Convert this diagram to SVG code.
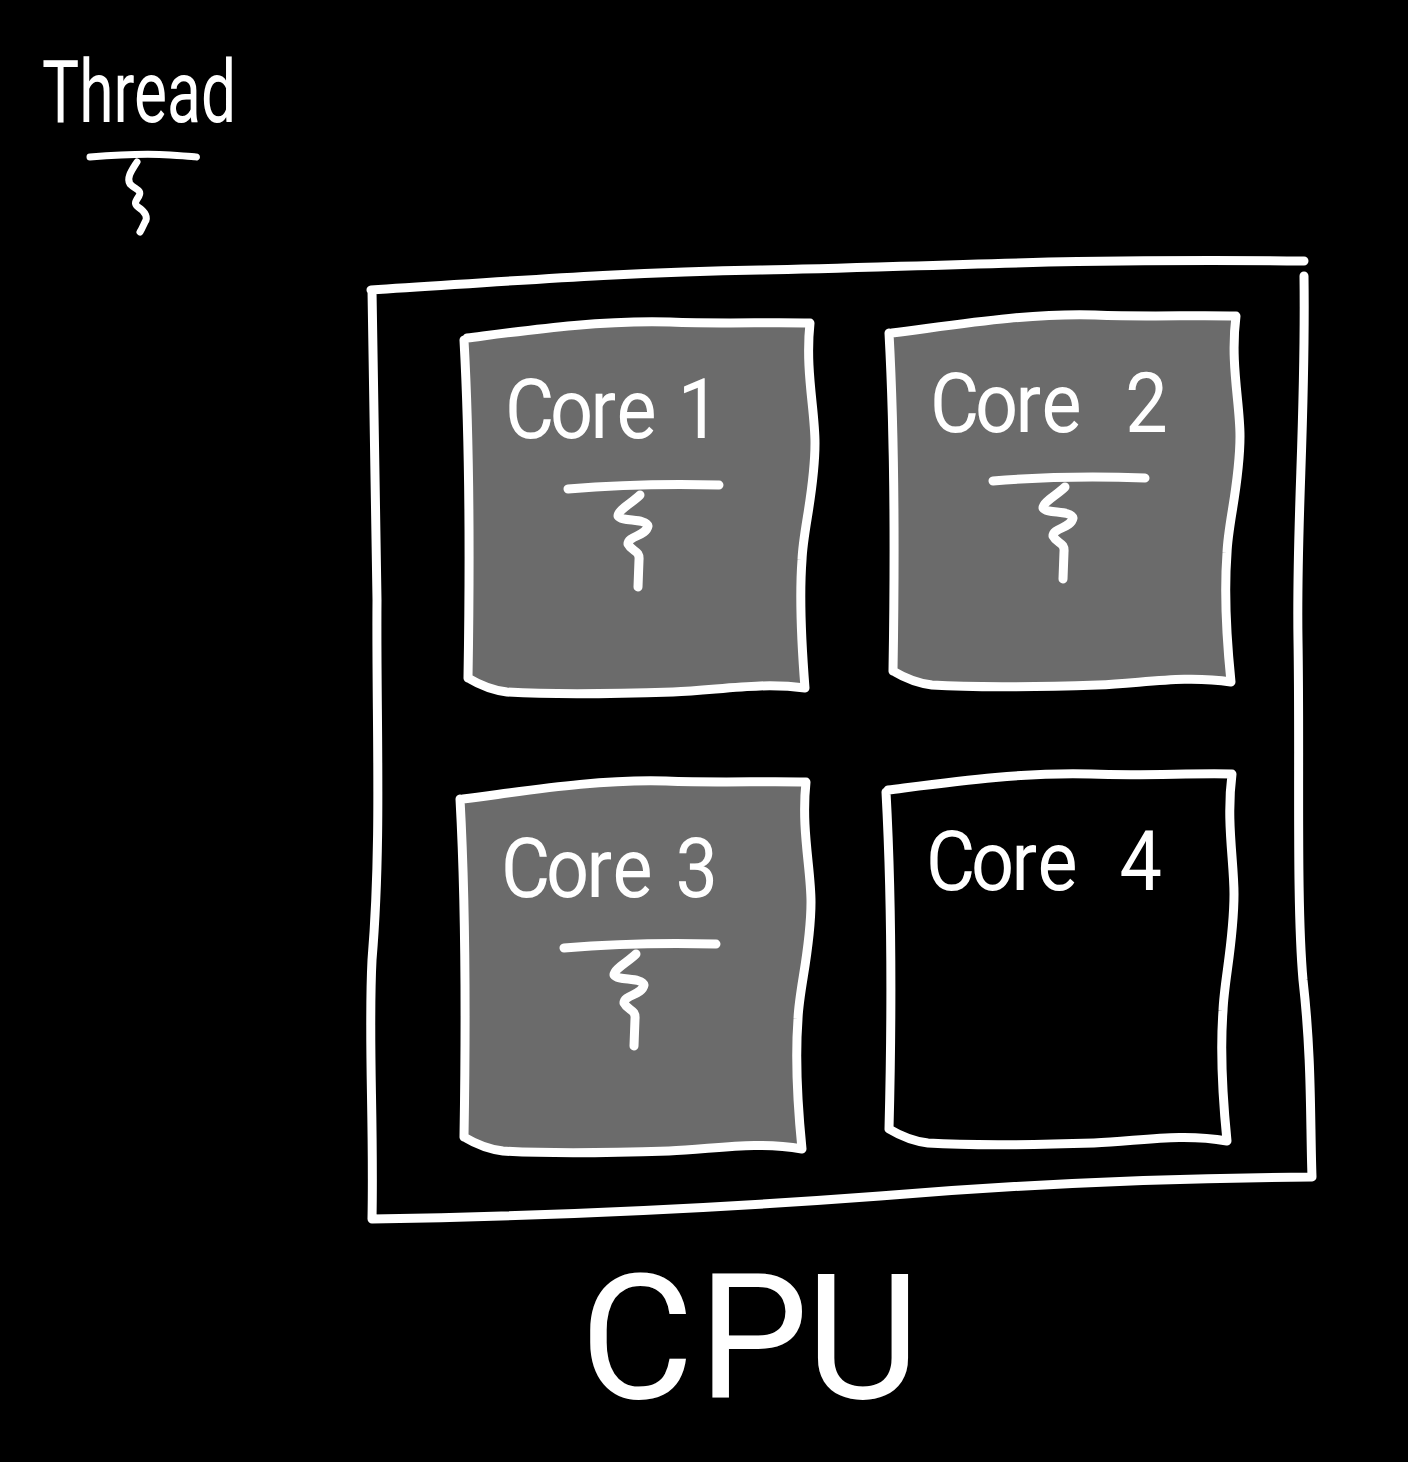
<svg xmlns="http://www.w3.org/2000/svg" width="1408" height="1462" viewBox="0 0 1408 1462">
<style>
.s{fill:none;stroke:#fff;stroke-width:9;stroke-linecap:round;stroke-linejoin:round}
.g{fill:#6b6b6b}
.t{font-family:Roboto,"Liberation Sans",Arial,sans-serif;fill:#fff}
.c{font-size:84px;font-weight:400}
.th{stroke-width:7}
</style>
<rect width="1408" height="1462" fill="#000"/>
<g id="thread-legend">
<text class="t" transform="translate(42 122)" style="font-size:88px;font-weight:400" textLength="194" lengthAdjust="spacingAndGlyphs">Thread</text>
<path class="s th" d="M90 157Q140 153 170 155T196 157M137 162C132 170 126 178 130 184C136 190 142 190 139 196C135 202 134 204 138 207C146 212 148 218 145 222C143 226 142 229 140 232"/>
</g>
<g id="cpu">
<path class="s" d="M371 290C500 282 620 272 760 270C900 268 1050 258 1304 261M1304 276C1306 420 1296 520 1298 640C1300 760 1296 900 1303 980C1312 1060 1310 1120 1312 1177C1150 1178 1000 1186 880 1196C720 1208 560 1216 372 1219C374 1120 368 1040 372 960C382 840 376 720 377 600C376 500 374 400 372 290"/>
<text class="t" transform="translate(580 1398) scale(1 1)" style="font-size:175px;font-weight:400" x="0 118 226">CPU</text>
</g>
<g id="core-1">
<path class="g" d="M467 338C530 330 600 320 670 322C720 324 770 322 810 323C805 370 815 410 815 443C815 490 803 530 802 560C799 600 802 650 805 688C760 682 720 690 673 692C610 694 540 694 507 692C490 690 478 684 468 678C470 560 470 450 465 340Z"/>
<path class="s" d="M467 338C530 330 600 320 670 322C720 324 770 322 810 323C805 370 815 410 815 443C815 490 803 530 802 560C799 600 802 650 805 688C760 682 720 690 673 692C610 694 540 694 507 692C490 690 478 684 468 678M464 340C470 450 470 560 468 678"/>
<text class="t c" transform="translate(505 438) scale(.9 1)" x="0 50 95 124 170 192">Core 1</text>
<path class="s" d="M568 489Q640 483 719 485M640 495C632 503 618 510 618 516C622 522 646 518 648 526C646 536 628 536 628 544C632 552 640 550 639 560L638 587"/>
</g>
<g id="core-2">
<path class="g" d="M892 333C955 325 1025 313 1095 315C1145 317 1195 315 1236 316C1230 363 1240 403 1240 436C1240 483 1228 523 1227 553C1224 593 1227 643 1231 682C1185 675 1145 683 1098 685C1035 687 965 687 932 685C915 683 903 677 893 671C895 553 885 443 889 333Z"/>
<path class="s" d="M892 333C955 325 1025 313 1095 315C1145 317 1195 315 1236 316C1230 363 1240 403 1240 436C1240 483 1228 523 1227 553C1224 593 1227 643 1231 682C1185 675 1145 683 1098 685C1035 687 965 687 932 685C915 683 903 677 893 671M889 333C895 443 895 553 893 671"/>
<text class="t c" transform="translate(930 432) scale(.9 1)" x="0 50 95 124 195 217">Core 2</text>
<path class="s" d="M993 481Q1065 475 1145 478M1065 487C1057 495 1043 502 1043 508C1047 514 1071 510 1073 518C1071 528 1053 528 1053 536C1057 544 1065 542 1064 552L1063 579"/>
</g>
<g id="core-3">
<path class="g" d="M463 799C526 791 596 779 666 781C716 783 766 781 806 782C801 829 811 869 811 902C811 949 799 989 798 1019C795 1059 798 1109 802 1149C756 1141 716 1149 669 1151C606 1153 536 1153 503 1151C486 1149 474 1143 464 1137C466 1019 466 909 461 799Z"/>
<path class="s" d="M463 799C526 791 596 779 666 781C716 783 766 781 806 782C801 829 811 869 811 902C811 949 799 989 798 1019C795 1059 798 1109 802 1149C756 1141 716 1149 669 1151C606 1153 536 1153 503 1151C486 1149 474 1143 464 1137M460 799C466 909 466 1019 464 1137"/>
<text class="t c" transform="translate(501 897) scale(.9 1)" x="0 50 95 124 172 194">Core 3</text>
<path class="s" d="M564 948Q636 942 716 944M636 954C628 962 614 969 614 975C618 981 642 977 644 985C642 995 624 995 624 1003C628 1011 636 1009 635 1019L634 1046"/>
</g>
<g id="core-4">
<path class="s" d="M888 790C951 782 1021 772 1091 774C1141 776 1191 773 1232 774C1226 821 1234 861 1234 894C1234 941 1224 981 1223 1011C1220 1051 1223 1101 1227 1141C1181 1133 1141 1141 1094 1143C1031 1145 961 1145 928 1143C911 1141 899 1135 889 1129M886 792C892 902 892 1012 889 1129"/>
<text class="t c" transform="translate(926 890) scale(.9 1)" x="0 50 95 124 193 215">Core 4</text>
</g>
<g id="connectors"/>
</svg>
